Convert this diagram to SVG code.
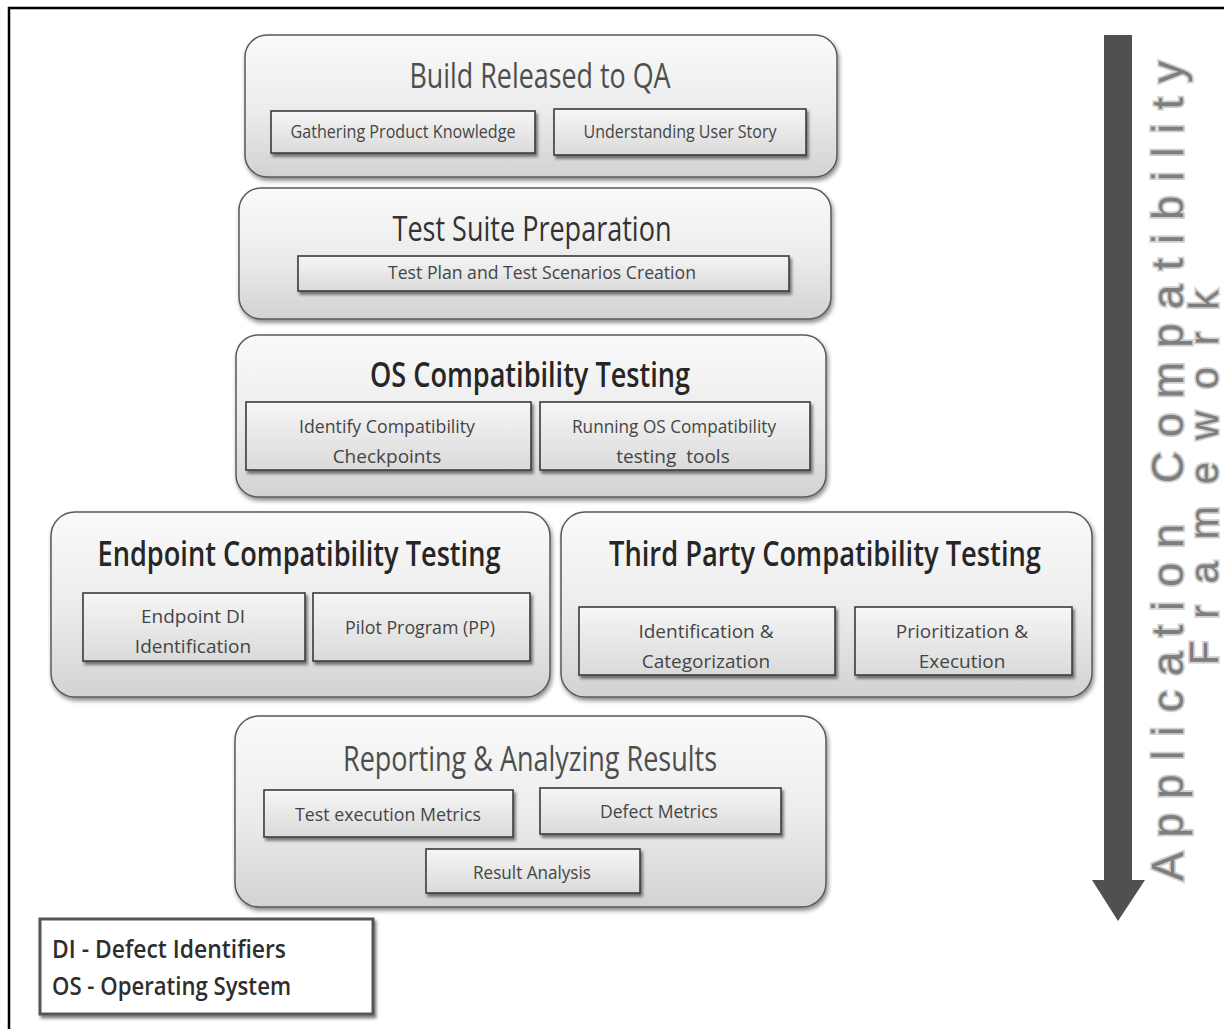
<svg xmlns="http://www.w3.org/2000/svg" width="1224" height="1029" viewBox="0 0 1224 1029">
  <defs>
    <linearGradient id="panelFill" x1="0" y1="0" x2="0" y2="1">
      <stop offset="0" stop-color="#fafafa"/>
      <stop offset="0.55" stop-color="#ebebeb"/>
      <stop offset="1" stop-color="#d2d2d2"/>
    </linearGradient>
    <linearGradient id="itemFill" x1="0" y1="0" x2="0" y2="1">
      <stop offset="0" stop-color="#f6f6f6"/>
      <stop offset="1" stop-color="#dadada"/>
    </linearGradient>
    <filter id="shadow" x="-10%" y="-10%" width="125%" height="130%">
      <feDropShadow dx="1.5" dy="3" stdDeviation="2" flood-color="#000" flood-opacity="0.45"/>
    </filter>
    <filter id="softShadow" x="-10%" y="-10%" width="125%" height="140%">
      <feDropShadow dx="2" dy="3" stdDeviation="1.8" flood-color="#000" flood-opacity="0.5"/>
    </filter>
  </defs>
  <style>
    .panel { fill: url(#panelFill); stroke: #5a5a5a; stroke-width: 1.5; filter: url(#shadow); }
    .item { fill: url(#itemFill); stroke: #3c3c3c; stroke-width: 1.6; filter: url(#softShadow); }
    .title { font-family: "Open Sans", "Noto Sans", sans-serif; font-size: 34px; text-anchor: middle; }
    .t-light { fill: #4e4e4e; }
    .t-dark { fill: #262626; font-weight: 600; }
    .label { font-family: "Open Sans", "Noto Sans", sans-serif; font-size: 19px; fill: #454545; text-anchor: middle; }
    .legend { font-family: "Open Sans", "Noto Sans", sans-serif; font-size: 26px; fill: #2e2e2e; font-weight: 600; }
    .side { font-family: "Liberation Sans", Arial, sans-serif; fill: #7e7e7e; stroke: #d0d0d0; stroke-width: 3.5; paint-order: stroke; }
  </style>

  <rect width="1224" height="1029" fill="#ffffff"/>
  <!-- outer frame (only top and left edges fall inside the canvas) -->
  <rect x="9" y="8" width="1300" height="1100" fill="none" stroke="#000" stroke-width="2.5"/>

  <!-- Build Released to QA -->
  <g id="build-released">
    <rect class="panel" x="245" y="35" width="592" height="142" rx="22"/>
    <text class="title t-light" x="540" y="88" textLength="261" lengthAdjust="spacingAndGlyphs">Build Released to QA</text>
    <rect class="item" x="271" y="111" width="264" height="42"/>
    <text class="label" x="403" y="138" textLength="225" lengthAdjust="spacingAndGlyphs">Gathering Product Knowledge</text>
    <rect class="item" x="554" y="109" width="252" height="46"/>
    <text class="label" x="680" y="138" textLength="193" lengthAdjust="spacingAndGlyphs">Understanding User Story</text>
  </g>

  <!-- Test Suite Preparation -->
  <g id="test-suite">
    <rect class="panel" x="239" y="188" width="592" height="131" rx="22"/>
    <text class="title" x="532" y="241" fill="#333" textLength="279" lengthAdjust="spacingAndGlyphs">Test Suite Preparation</text>
    <rect class="item" x="298" y="256" width="491" height="35"/>
    <text class="label" x="542" y="279" textLength="308" lengthAdjust="spacingAndGlyphs">Test Plan and Test Scenarios Creation</text>
  </g>

  <!-- OS Compatibility Testing -->
  <g id="os-compat">
    <rect class="panel" x="236" y="335" width="590" height="162" rx="22"/>
    <text class="title t-dark" x="530" y="387" textLength="320" lengthAdjust="spacingAndGlyphs">OS Compatibility Testing</text>
    <rect class="item" x="246" y="402" width="285" height="68"/>
    <text class="label" x="387" y="433" textLength="176" lengthAdjust="spacingAndGlyphs">Identify Compatibility</text>
    <text class="label" x="387" y="463">Checkpoints</text>
    <rect class="item" x="540" y="402" width="270" height="68"/>
    <text class="label" x="674" y="433" textLength="204" lengthAdjust="spacingAndGlyphs">Running OS Compatibility</text>
    <text class="label" x="673" y="463" xml:space="preserve">testing  tools</text>
  </g>

  <!-- Endpoint Compatibility Testing -->
  <g id="endpoint-compat">
    <rect class="panel" x="51" y="512" width="499" height="185" rx="24"/>
    <text class="title t-dark" x="299" y="566" textLength="403" lengthAdjust="spacingAndGlyphs">Endpoint Compatibility Testing</text>
    <rect class="item" x="83" y="593" width="222" height="68"/>
    <text class="label" x="193" y="623">Endpoint DI</text>
    <text class="label" x="193" y="653">Identification</text>
    <rect class="item" x="313" y="593" width="217" height="68"/>
    <text class="label" x="420" y="634" textLength="150" lengthAdjust="spacingAndGlyphs">Pilot Program (PP)</text>
  </g>

  <!-- Third Party Compatibility Testing -->
  <g id="third-party-compat">
    <rect class="panel" x="561" y="512" width="531" height="185" rx="24"/>
    <text class="title t-dark" x="825" y="566" textLength="432" lengthAdjust="spacingAndGlyphs">Third Party Compatibility Testing</text>
    <rect class="item" x="579" y="607" width="256" height="68"/>
    <text class="label" x="706" y="638">Identification &amp;</text>
    <text class="label" x="706" y="668">Categorization</text>
    <rect class="item" x="855" y="607" width="217" height="68"/>
    <text class="label" x="962" y="638">Prioritization &amp;</text>
    <text class="label" x="962" y="668">Execution</text>
  </g>

  <!-- Reporting & Analyzing Results -->
  <g id="reporting">
    <rect class="panel" x="235" y="716" width="591" height="191" rx="24"/>
    <text class="title t-light" x="530" y="771" textLength="374" lengthAdjust="spacingAndGlyphs">Reporting &amp; Analyzing Results</text>
    <rect class="item" x="264" y="790" width="249" height="47"/>
    <text class="label" x="388" y="821" textLength="186" lengthAdjust="spacingAndGlyphs">Test execution Metrics</text>
    <rect class="item" x="540" y="788" width="241" height="46"/>
    <text class="label" x="659" y="818" textLength="118" lengthAdjust="spacingAndGlyphs">Defect Metrics</text>
    <rect class="item" x="426" y="849" width="214" height="44"/>
    <text class="label" x="532" y="879" textLength="118" lengthAdjust="spacingAndGlyphs">Result Analysis</text>
  </g>

  <!-- Legend -->
  <g id="legend">
    <rect x="40" y="919" width="333" height="95" fill="#fff" stroke="#555" stroke-width="3" filter="url(#softShadow)"/>
    <text class="legend" x="52" y="958" textLength="234" lengthAdjust="spacingAndGlyphs">DI - Defect Identifiers</text>
    <text class="legend" x="52" y="995" textLength="239" lengthAdjust="spacingAndGlyphs">OS - Operating System</text>
  </g>

  <!-- Flow direction arrow -->
  <g id="connectors">
    <polygon points="1104,35 1132,35 1132,880 1145,880 1118,921 1092,880 1104,880" fill="#505050"/>
  </g>

  <!-- Vertical caption -->
  <g id="caption">
    <text class="side" font-size="44" transform="translate(1183,881) rotate(-90)" x="0" y="0" textLength="820" lengthAdjust="spacing">Application Compatibility</text>
    <text class="side" font-size="40" transform="translate(1218,665) rotate(-90)" x="0" y="0" textLength="375" lengthAdjust="spacing">Framework</text>
  </g>
</svg>
